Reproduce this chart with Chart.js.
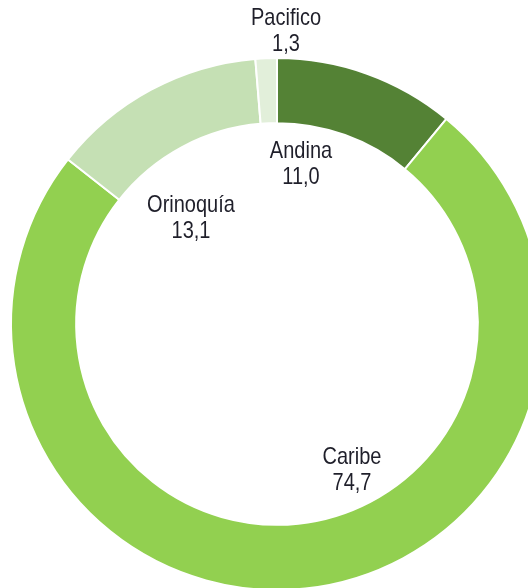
<!DOCTYPE html>
<html>
<head>
<meta charset="utf-8">
<script src="https://cdn.jsdelivr.net/npm/chart.js@4/dist/chart.umd.min.js"></script>
<style>
  html, body { margin: 0; padding: 0; background: #fff; overflow: hidden; width: 528px; height: 588px; }
  #wrap { position: absolute; left: 0; top: 0; width: 600px; height: 650px; }
</style>
</head>
<body>
<div id="wrap"><canvas id="regionChart" width="600" height="650"></canvas></div>
<script>
const regions = ["Andina", "Caribe", "Orinoquía", "Pacifico"];
const shares = [11.0, 74.7, 13.1, 1.3];
const shareLabels = ["11,0", "74,7", "13,1", "1,3"];
const colors = ["#548235", "#92D050", "#C5E0B4", "#E2EFDA"];

// label offsets from the chart centre, per slice
const labelOffsets = [[24, -160], [75, 146], [-86, -106], [9, -293]];

const sliceLabels = {
  id: "sliceLabels",
  afterDatasetsDraw(chart) {
    const ctx = chart.ctx;
    const arc = chart.getDatasetMeta(0).data[0];
    ctx.save();
    ctx.font = '20px "Liberation Sans", Arial, sans-serif';
    ctx.fillStyle = "#1f1f2a";
    ctx.textAlign = "center";
    ctx.textBaseline = "middle";
    regions.forEach((name, i) => {
      const x = arc.x + labelOffsets[i][0];
      const y = arc.y + labelOffsets[i][1];
      ctx.save();
      ctx.translate(x, y);
      ctx.scale(1, 1.2);
      ctx.fillText(name, 0, -13 / 1.2);
      ctx.fillText(shareLabels[i], 0, 13 / 1.2);
      ctx.restore();
    });
    ctx.restore();
  },
};

new Chart(document.getElementById("regionChart"), {
  type: "doughnut",
  data: {
    labels: regions,
    datasets: [
      {
        data: shares,
        backgroundColor: colors,
        borderColor: "#ffffff",
        borderWidth: 2,
      },
    ],
  },
  options: {
    responsive: false,
    animation: false,
    cutout: "75.5%",
    layout: { padding: { left: 10, top: 57, right: 56, bottom: 59 } },
    plugins: {
      legend: { display: false },
      tooltip: { enabled: false },
    },
  },
  plugins: [sliceLabels],
});
</script>
</body>
</html>
